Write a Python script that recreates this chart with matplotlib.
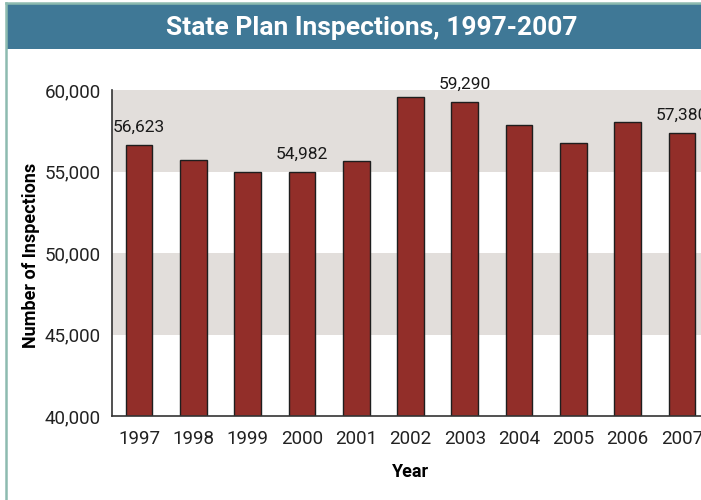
import matplotlib.pyplot as plt
from matplotlib.patches import Rectangle
from matplotlib.lines import Line2D

# Inspection counts per year
years = ['1997', '1998', '1999', '2000', '2001', '2002',
         '2003', '2004', '2005', '2006', '2007']
inspections = [56623, 55700, 54960, 54982, 55640, 59550,
               59290, 57850, 56730, 58060, 57380]
labeled_years = ['1997', '2000', '2003', '2007']

yticks = [40000, 45000, 50000, 55000, 60000]
bands = [(45000, 50000), (55000, 60000)]

plt.rcParams['font.family'] = ['Roboto', 'DejaVu Sans']

fig = plt.figure(figsize=(7.01, 5), dpi=100)

# header banner and frame lines
fig.patches.append(Rectangle((6 / 701, 0.902), 1, 0.09, transform=fig.transFigure,
                             facecolor='#3f7896', edgecolor='none'))
fig.lines.append(Line2D([5.5 / 701, 5.5 / 701], [0, 0.994], transform=fig.transFigure,
                        color='#8dbbb0', linewidth=1.8))
fig.lines.append(Line2D([5.5 / 701, 1], [0.994, 0.994], transform=fig.transFigure,
                        color='#8dbbb0', linewidth=1.8))
fig.text(0.53, 0.944, 'State Plan Inspections, 1997-2007', color='white',
         fontsize=19, fontweight='bold', ha='center', va='center')

ax = fig.add_axes([112 / 701, 0.168, 597 / 701, 0.652])
for lo, hi in bands:
    ax.axhspan(lo, hi, color='#e2dedb', zorder=0, linewidth=0)

x = range(len(years))
ax.bar(x, inspections, width=0.49, color='#922e29', edgecolor='#1e1e1e',
       linewidth=1, zorder=2)

for i, (yr, val) in enumerate(zip(years, inspections)):
    if yr in labeled_years:
        ax.annotate(f'{val:,}', (i, val), xytext=(0, 7), textcoords='offset points',
                    ha='center', va='bottom', fontsize=12.5, color='#1a1a1a')

ax.set_xlim(-0.5, len(years) - 0.5)
ax.set_ylim(40000, 60000)
ax.set_yticks(yticks)
ax.set_yticklabels([f'{t:,}' for t in yticks])
ax.set_xticks(list(x))
ax.set_xticklabels(years)
ax.tick_params(axis='y', length=0, pad=8, labelsize=13.5, labelcolor='#222222')
ax.tick_params(axis='x', length=0, pad=10, labelsize=13.5, labelcolor='#222222')

for side in ['top', 'right']:
    ax.spines[side].set_visible(False)
for side in ['left', 'bottom']:
    ax.spines[side].set_color('#333333')
    ax.spines[side].set_linewidth(1.2)

fig.text(31 / 701, (500 - 255) / 500, 'Number of Inspections', rotation=90,
         fontsize=13, fontweight='bold', ha='center', va='center')
fig.text(411 / 701, (500 - 472) / 500, 'Year', fontsize=13, fontweight='bold',
         ha='center', va='center')

fig.savefig('out.png', dpi=100)
